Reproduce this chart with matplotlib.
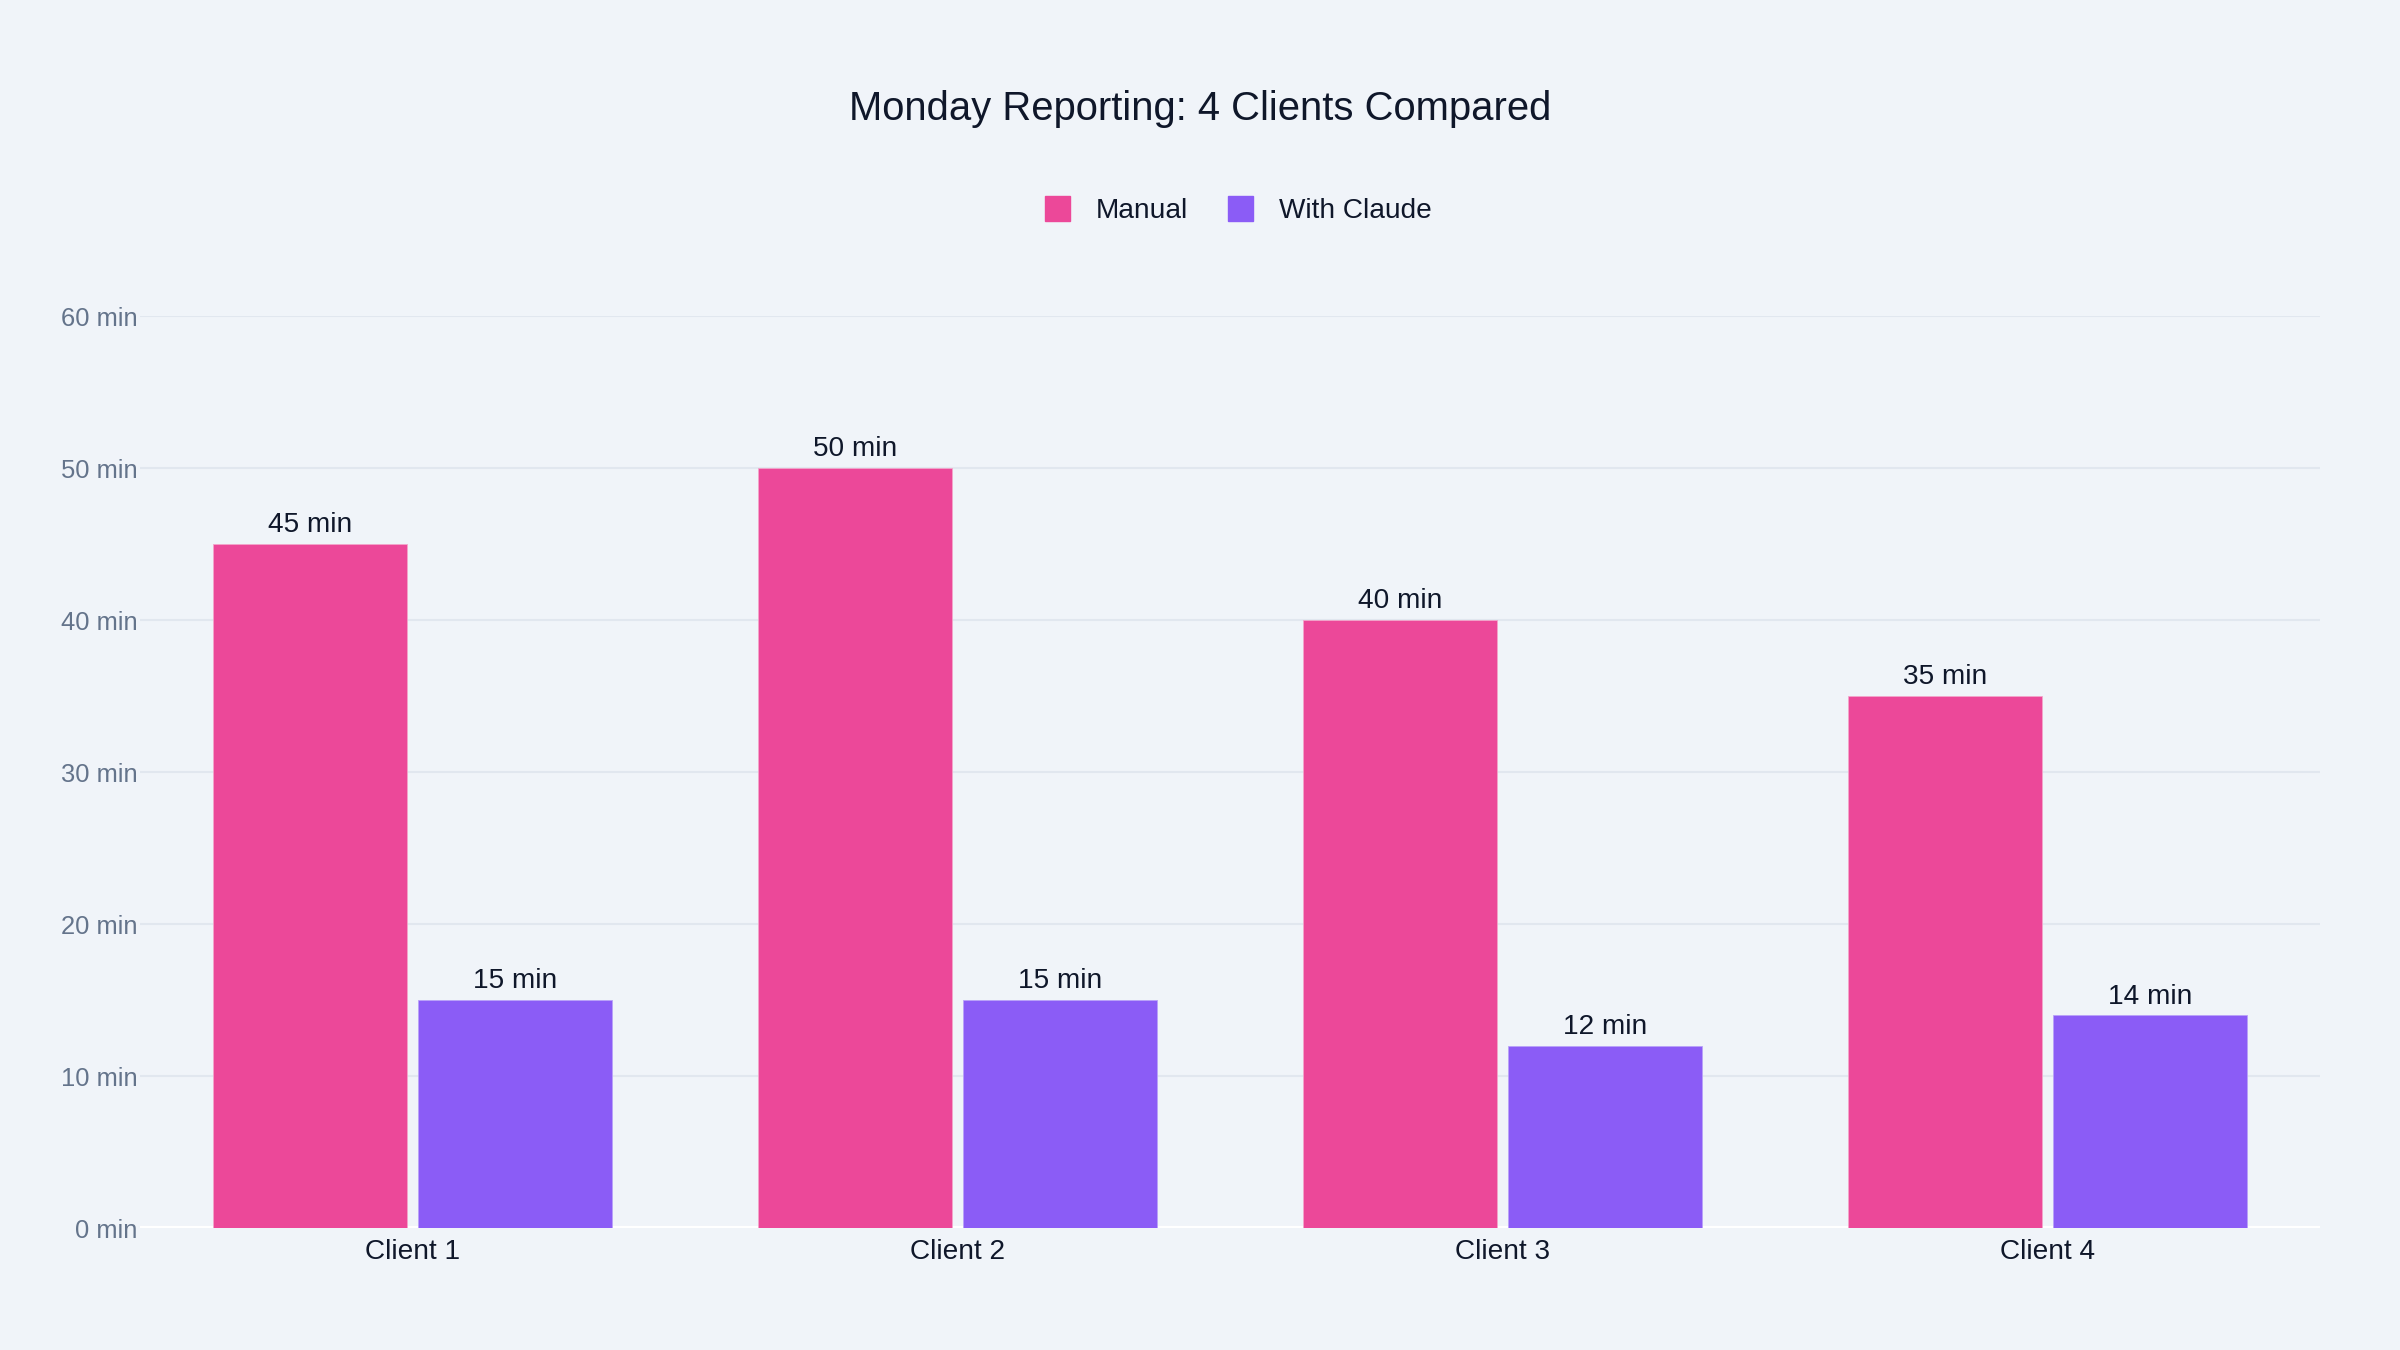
import matplotlib.pyplot as plt
import numpy as np
from matplotlib.lines import Line2D

# Данные
clients = ['Client 1', 'Client 2', 'Client 3', 'Client 4']
manual = [45, 50, 40, 35]
with_claude = [15, 15, 12, 14]
y_ticks = [0, 10, 20, 30, 40, 50, 60]

bg = '#F0F4F9'
pink = '#EC4899'
purple = '#8B5CF6'
dark = '#0F172A'
tick_grey = '#64748B'

plt.rcParams['font.family'] = ['Liberation Sans', 'DejaVu Sans']

fig = plt.figure(figsize=(24, 13.5), dpi=100, facecolor=bg)
ax = fig.add_axes([140 / 2400, 1 - 1228 / 1350, 2180 / 2400, 912 / 1350])
ax.set_facecolor(bg)

x = np.arange(len(clients))
slot = 0.375
w = slot * 0.95
b1 = ax.bar(x - slot / 2, manual, width=w, color=pink, edgecolor='#F3A6CB', linewidth=0.6, zorder=3)
b2 = ax.bar(x + slot / 2, with_claude, width=w, color=purple, edgecolor='#B9A2F9', linewidth=0.6, zorder=3)

for bars in (b1, b2):
    for rect in bars:
        h = rect.get_height()
        ax.annotate(f'{h:g} min', (rect.get_x() + rect.get_width() / 2, h),
                    xytext=(0, 4), textcoords='offset points',
                    ha='center', va='bottom', fontsize=14 * 1.44, color=dark)

ax.set_xlim(-0.5, 3.5)
ax.set_ylim(0, 60)
ax.set_xticks(x)
ax.set_xticklabels(clients, fontsize=14 * 1.44, color=dark)
ax.set_yticks(y_ticks)
ax.set_yticklabels([f'{v} min' for v in y_ticks], fontsize=18.4, color=tick_grey)
ax.tick_params(axis='both', length=0)
ax.tick_params(axis='x', pad=8)
ax.tick_params(axis='y', pad=2)

ax.grid(axis='y', color='#E1E7EF', linewidth=1.5, zorder=0)
ax.axhline(0, color='white', linewidth=3, zorder=2)
for s in ax.spines.values():
    s.set_visible(False)

fig.text(0.5, 1 - 109 / 1350, 'Monday Reporting: 4 Clients Compared',
         ha='center', va='center', fontsize=20 * 1.44, color=dark)

handles = [Line2D([], [], marker='s', linestyle='none', markersize=18, color=pink),
           Line2D([], [], marker='s', linestyle='none', markersize=18, color=purple)]
fig.legend(handles, ['Manual', 'With Claude'], loc='center', bbox_to_anchor=(1238 / 2400, 1 - 211 / 1350),
           ncol=2, frameon=False, fontsize=14 * 1.44, handlelength=0.9, handletextpad=0.93,
           columnspacing=1.43, labelcolor=dark)

fig.savefig('out.png', dpi=100, facecolor=bg)
